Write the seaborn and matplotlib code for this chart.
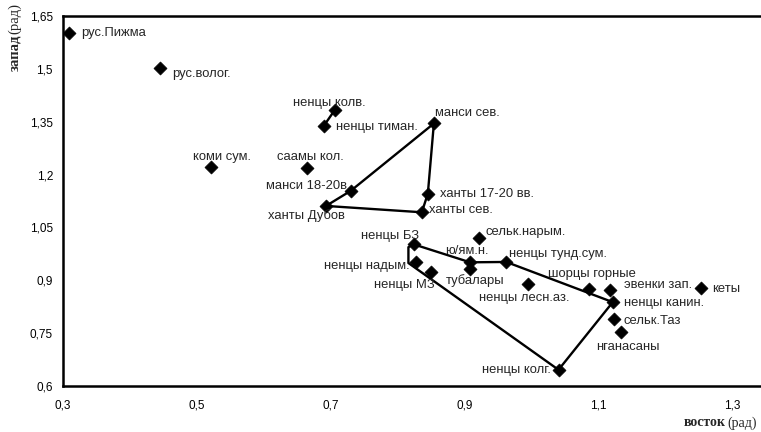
import numpy as np
import pandas as pd
import seaborn as sns
import matplotlib.pyplot as plt

# точки: восток (x) / запад (y), радианы
names = ['рус.Пижма', 'рус.волог.', 'коми сум.', 'саамы кол.', 'ненцы колв.',
         'ненцы тиман.', 'манси сев.', 'манси 18-20в', 'ханты Дубов',
         'ханты 17-20 вв.', 'ханты сев.', 'ненцы БЗ', 'сельк.нарым.',
         'ненцы надым.', 'ненцы МЗ', 'ю/ям.н.', 'тубалары', 'ненцы тунд.сум.',
         'ненцы лесн.аз.', 'шорцы горные', 'эвенки зап.', 'ненцы канин.',
         'сельк.Таз', 'нганасаны', 'кеты', 'ненцы колг.']
east = [0.309, 0.445, 0.522, 0.665, 0.706,
        0.690, 0.854, 0.730, 0.693,
        0.845, 0.836, 0.824, 0.922,
        0.827, 0.850, 0.908, 0.908, 0.962,
        0.994, 1.086, 1.117, 1.121,
        1.123, 1.133, 1.253, 1.040]
west = [1.601, 1.502, 1.221, 1.220, 1.383,
        1.339, 1.345, 1.154, 1.111,
        1.146, 1.093, 1.002, 1.019,
        0.951, 0.923, 0.951, 0.933, 0.952,
        0.889, 0.875, 0.872, 0.838,
        0.789, 0.753, 0.879, 0.646]

# контуры групп
group_a = ['ненцы колв.', 'ненцы тиман.']
group_b = ['ханты Дубов', 'манси 18-20в', 'манси сев.', 'ханты 17-20 вв.',
           'ханты сев.', 'ханты Дубов']
group_c = ['ненцы БЗ', 'ю/ям.н.', 'ненцы тунд.сум.', 'ненцы канин.',
           'ненцы колг.', None, None, 'ненцы БЗ']
group_c_extra_x = [0.816, 0.816]
group_c_extra_y = [0.949, 0.994]

xticks = [0.3, 0.5, 0.7, 0.9, 1.1, 1.3]
xtick_labels = ['0,3', '0,5', '0,7', '0,9', '1,1', '1,3']
yticks = [0.6, 0.75, 0.9, 1.05, 1.2, 1.35, 1.5, 1.65]
ytick_labels = ['0,6', '0,75', '0,9', '1,05', '1,2', '1,35', '1,5', '1,65']

# смещения подписей в пикселях (dx, dy, выравнивание)
label_pos = {
    'рус.Пижма': (12, 0, 'left'), 'рус.волог.': (12, -6, 'left'),
    'коми сум.': (11, 10, 'center'), 'саамы кол.': (3, 11, 'center'),
    'ненцы колв.': (-5, 7, 'center'), 'ненцы тиман.': (12, -1, 'left'),
    'манси сев.': (1, 10, 'left'), 'манси 18-20в': (-4, 5, 'right'),
    'ханты Дубов': (-20, -10, 'center'), 'ханты 17-20 вв.': (12, 0, 'left'),
    'ханты сев.': (7, 2, 'left'), 'ненцы БЗ': (5, 8, 'right'),
    'сельк.нарым.': (6, 6, 'left'), 'ненцы надым.': (-6, -4, 'right'),
    'ненцы МЗ': (4, -13, 'right'), 'ю/ям.н.': (-3, 11, 'center'),
    'тубалары': (5, -12, 'center'), 'ненцы тунд.сум.': (3, 8, 'left'),
    'ненцы лесн.аз.': (-3, -14, 'center'), 'шорцы горные': (3, 15, 'center'),
    'эвенки зап.': (14, 5, 'left'), 'ненцы канин.': (11, -1, 'left'),
    'сельк.Таз': (9, -2, 'left'), 'нганасаны': (7, -15, 'center'),
    'кеты': (11, -1, 'left'), 'ненцы колг.': (-8, 0, 'right'),
}

sns.set_style('white')
plt.rcParams['font.family'] = ['Liberation Sans', 'DejaVu Sans']

df = pd.DataFrame({'name': names, 'east': east, 'west': west})
lookup = df.set_index('name')


def path(group, extra_x=(), extra_y=()):
    xs, ys = [], []
    ex = iter(zip(extra_x, extra_y))
    for g in group:
        if g is None:
            px, py = next(ex)
        else:
            px, py = lookup.loc[g, 'east'], lookup.loc[g, 'west']
        xs.append(px)
        ys.append(py)
    return pd.DataFrame({'east': xs, 'west': ys})


fig = plt.figure(figsize=(7.61, 4.32), dpi=100)
ax = fig.add_axes([62.7 / 761, 1 - 386 / 432, 1 - 62.7 / 761, 370 / 432])

for grp in [path(group_a), path(group_b),
            path(group_c, group_c_extra_x, group_c_extra_y)]:
    sns.lineplot(data=grp, x='east', y='west', sort=False, estimator=None,
                 color='black', linewidth=1.7, ax=ax)

sns.scatterplot(data=df, x='east', y='west', marker='D', s=44,
                color='black', edgecolor='black', linewidth=0.5, ax=ax, zorder=3)

for n, xv, yv in zip(names, east, west):
    dx, dy, ha = label_pos[n]
    ax.annotate(n, (xv, yv), xytext=(dx, dy), textcoords='offset pixels',
                ha=ha, va='center', fontsize=9.4)

ax.set_xlim(0.3, 0.3 + (761 - 62.7) / 670)
ax.set_ylim(0.6, 1.65)
ax.set_xticks(xticks)
ax.set_xticklabels(xtick_labels)
ax.set_yticks(yticks)
ax.set_yticklabels(ytick_labels)
ax.tick_params(axis='both', direction='out', length=4, width=1.2,
               labelsize=8.5, pad=3, color='black', labelcolor='black')
ax.tick_params(axis='x', pad=6)
ax.set_xlabel('')
ax.set_ylabel('')
for side in ['left', 'bottom', 'top']:
    ax.spines[side].set_linewidth(1.8)
    ax.spines[side].set_color('black')
ax.spines['right'].set_visible(False)

# подписи осей: жирное слово + обычные единицы
serif = ['Liberation Serif', 'DejaVu Serif']
fig.canvas.draw()
r = fig.canvas.get_renderer()
t1 = fig.text(757 / 761, 1 - 423 / 432, '(рад)', ha='right', va='center',
              family=serif, fontsize=10)
bb = t1.get_window_extent(r)
fig.text(bb.x0 / fig.bbox.width - 0.003, 1 - 423 / 432, 'восток', ha='right',
         va='center', family=serif, fontsize=10, fontweight='bold')

t2 = fig.text(15 / 761, 1 - 71 / 432, 'запад', rotation=90, ha='center',
              va='bottom', family=serif, fontsize=10.5, fontweight='bold')
bb2 = t2.get_window_extent(r)
fig.text(15 / 761, bb2.y1 / fig.bbox.height, '(рад)', rotation=90,
         ha='center', va='bottom', family=serif, fontsize=10.5)

fig.savefig('out.png', dpi=100)
